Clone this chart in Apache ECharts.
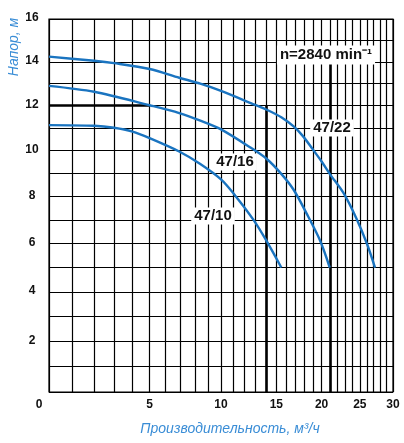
<!DOCTYPE html>
<html><head><meta charset="utf-8">
<script src="https://cdn.jsdelivr.net/npm/echarts@6/dist/echarts.min.js"></script>
<style>html,body{margin:0;padding:0;background:#fff}#c{width:404px;height:443px}</style>
</head><body><div id="c"></div>
<script>
// ---- values ----
const flowGridTicks = [0,1,2,3,4,5,6,7,8,9,10,11,12,13,14,15,16,17,18,19,20,21,22,23,24,25,26,27,28,29,30];
const flowTickLabels = [0,5,10,15,20,25,30];
const headGridTicks = [0,1,2,3,4,5,6,7,8,9,10,11,12,13,14,15,16];
const headTickLabels = [2,4,6,8,10,12,14,16];

const curveNames = ['47/22','47/16','47/10'];
const flow47_22 = [0, 2, 3, 5, 6.9, 8.4, 10, 12.6, 14, 15.5, 16.8, 17.8, 19, 20, 21, 22.8, 24.5, 26, 27.2];
const head47_22 = [14.24, 14.05, 13.94, 13.67, 13.27, 13.0, 12.67, 12.11, 11.83, 11.48, 11.07, 10.65, 10.03, 9.52, 8.98, 8.13, 7.07, 6.0, 5.0];
const flow47_16 = [0, 2, 5, 6.9, 8.4, 10, 12.6, 14, 15.5, 16.8, 18.2, 19.8, 21];
const head47_16 = [12.9, 12.63, 12.02, 11.67, 11.33, 10.94, 10.11, 9.65, 8.98, 8.29, 7.3, 6.14, 5.0];
const flow47_10 = [0, 2, 3, 4, 5, 6.9, 8.4, 10, 11.1, 12.8, 14, 15.5];
const head47_10 = [11.13, 11.1, 11.01, 10.84, 10.55, 9.96, 9.41, 8.74, 8.09, 7.0, 6.13, 5.0];

// emphasised grid segments (flow, head) pairs
const guideSegments = [
  [[0, 12], [5, 12]],
  [[14, 12], [14, 0]],
  [[21, 14], [21, 0]]
];

const speedText = 'n=2840 min⁻¹';
const xTitle = 'Производительность, м³/ч';
const yTitle = 'Напор, м';

// ---- axis model: the reference grid is non-uniform; both axes are
// logarithmic in (value + shift), fitted to the printed grid lines ----
const FLOW_SHIFT = 10;
const HEAD_SHIFT = 75;
const toX = v => v + FLOW_SHIFT;
const toY = v => v + HEAD_SHIFT;

const pair = (fs, hs) => fs.map((f, i) => [toX(f), toY(hs[i])]);

const curveColor = '#1a74c0';
const gridLine = { color: '#000', width: 1.2 };

function curveSeries(name, fs, hs, extra) {
  return Object.assign({
    name, type: 'line', data: pair(fs, hs),
    smooth: 0.3, showSymbol: false, symbol: 'none',
    lineStyle: { color: curveColor, width: 2.4 }, z: 5, silent: true
  }, extra || {});
}

const chart = echarts.init(document.getElementById('c'), null, { renderer: 'canvas' });
chart.setOption({
  animation: false,
  backgroundColor: '#fff',
  grid: { left: 49, right: 11, top: 19, bottom: 51, show: true, borderColor: '#000', borderWidth: 1.2, backgroundColor: 'transparent' },
  xAxis: {
    type: 'log', logBase: 10,
    min: toX(0), max: toX(30),
    axisLine: { show: false },
    axisTick: { show: true, length: 0, customValues: flowGridTicks.map(toX) },
    splitLine: { show: true, lineStyle: gridLine },
    minorTick: { show: false }, minorSplitLine: { show: false },
    axisLabel: {
      customValues: flowTickLabels.map(toX),
      formatter: v => {
        const q = Math.round(v - FLOW_SHIFT);
        return q === 0 ? '{o|0}' : String(q);
      },
      rich: { o: { padding: [0, 20, 0, 0], fontFamily: 'Liberation Sans', fontWeight: 'bold', fontSize: 12, color: '#111' } },
      margin: 7, color: '#111', fontFamily: 'Liberation Sans', fontWeight: 'bold', fontSize: 12,
      showMinLabel: true, showMaxLabel: true, hideOverlap: false
    }
  },
  yAxis: {
    type: 'log', logBase: 10,
    min: toY(0), max: toY(16),
    axisLine: { show: false },
    axisTick: { show: true, length: 0, customValues: headGridTicks.map(toY) },
    splitLine: { show: true, lineStyle: gridLine },
    minorTick: { show: false }, minorSplitLine: { show: false },
    axisLabel: {
      customValues: headTickLabels.map(toY),
      formatter: v => String(Math.round(v - HEAD_SHIFT)),
      margin: 17, align: 'center', verticalAlign: 'bottom', lineHeight: 12,
      padding: [0, 0, -5, 0],
      color: '#111', fontFamily: 'Liberation Sans', fontWeight: 'bold', fontSize: 12,
      showMinLabel: true, showMaxLabel: true, hideOverlap: false
    }
  },
  series: [
    curveSeries(curveNames[0], flow47_22, head47_22, {
      markLine: {
        silent: true, symbol: ['none', 'none'], animation: false,
        label: { show: false },
        lineStyle: { color: '#000', width: 2.6, type: 'solid' },
        data: guideSegments.map(s => [
          { coord: [toX(s[0][0]), toY(s[0][1])] },
          { coord: [toX(s[1][0]), toY(s[1][1])] }
        ])
      }
    }),
    curveSeries(curveNames[1], flow47_16, head47_16),
    curveSeries(curveNames[2], flow47_10, head47_10)
  ],
  graphic: [
    { type: 'text', x: 326, y: 55, z: 100, style: { text: speedText, x: 0, y: 0, align: 'center', verticalAlign: 'middle',
        font: 'bold 15px "Liberation Sans"', fill: '#111', backgroundColor: '#fff', padding: [2, 3] } },
    { type: 'text', x: 332, y: 128, z: 100, style: { text: curveNames[0], align: 'center', verticalAlign: 'middle',
        font: 'bold 15px "Liberation Sans"', fill: '#111', backgroundColor: '#fff', padding: [1, 3] } },
    { type: 'text', x: 235, y: 162, z: 100, style: { text: curveNames[1], align: 'center', verticalAlign: 'middle',
        font: 'bold 15px "Liberation Sans"', fill: '#111', backgroundColor: '#fff', padding: [1, 3] } },
    { type: 'text', x: 213, y: 216, z: 100, style: { text: curveNames[2], align: 'center', verticalAlign: 'middle',
        font: 'bold 15px "Liberation Sans"', fill: '#111', backgroundColor: '#fff', padding: [1, 3] } },
    { type: 'text', x: 230, y: 429, z: 100, style: { text: xTitle, align: 'center', verticalAlign: 'middle',
        font: 'italic 14px "Liberation Sans"', fill: '#3a8dd6' } },
    { type: 'text', x: 14, y: 47, rotation: Math.PI / 2, z: 100, style: { text: yTitle, align: 'center', verticalAlign: 'middle',
        font: 'italic 14px "Liberation Sans"', fill: '#3a8dd6' } }
  ]
});
</script>
</body></html>
